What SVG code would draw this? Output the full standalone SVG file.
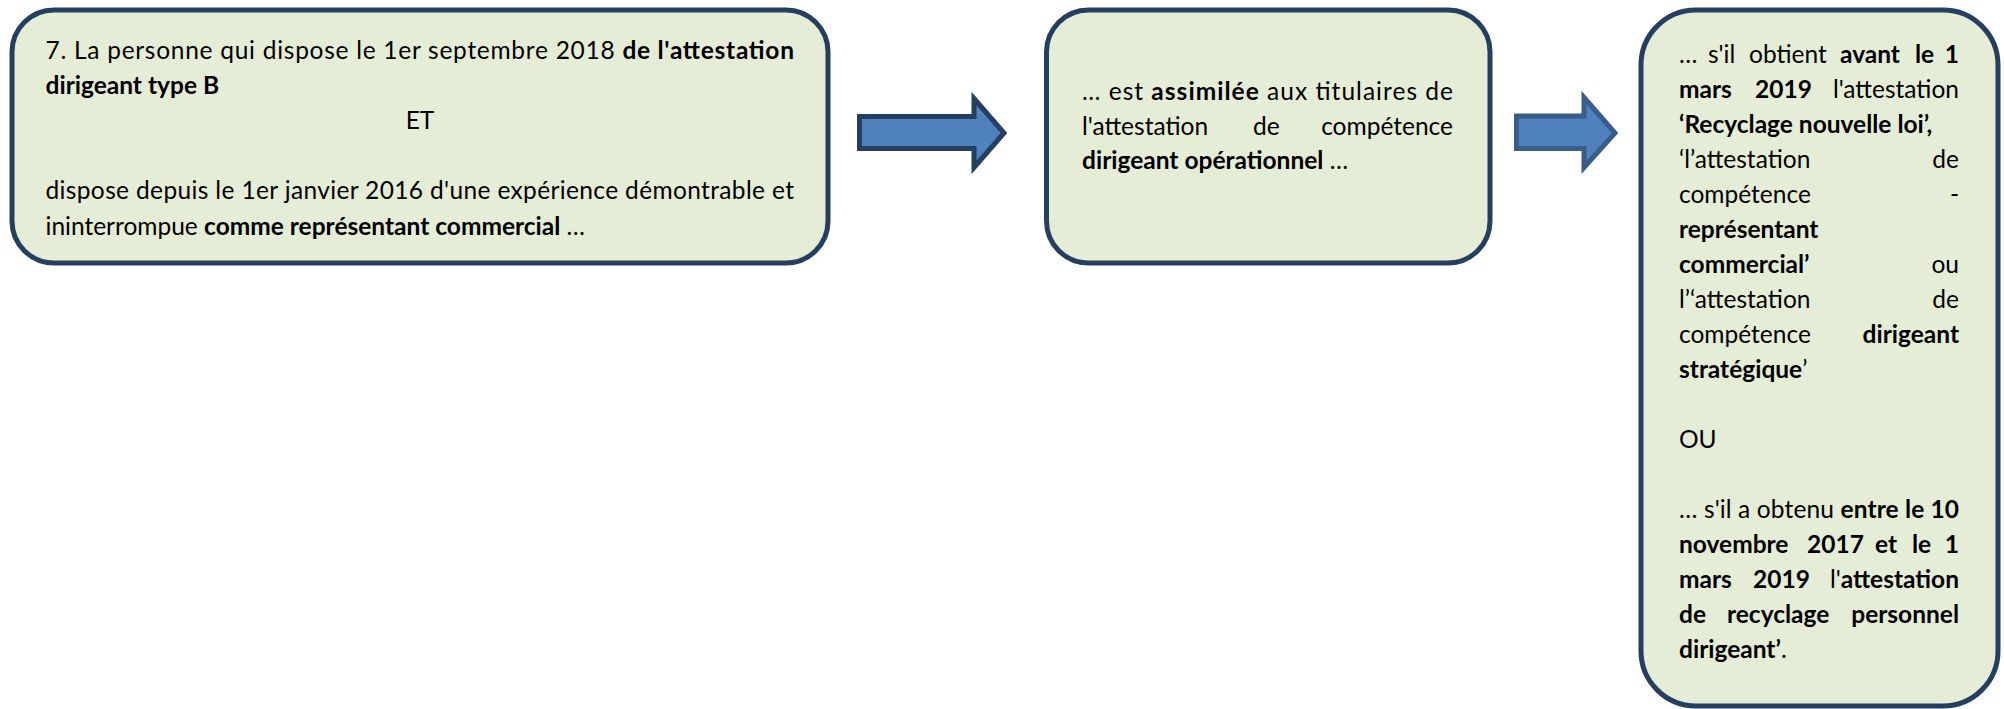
<svg xmlns="http://www.w3.org/2000/svg" width="2004" height="709" viewBox="0 0 2004 709">
<style>
.box{fill:#E6EDD7;stroke:#243F60;stroke-width:5}
.arr{fill:#4F81BD;stroke-width:5;stroke-linejoin:miter}
text{font-family:Lato,"Open Sans","Liberation Sans",sans-serif;font-size:24.5px;fill:#000}
.b{font-weight:bold}
.e{text-anchor:end}
.m{text-anchor:middle}
</style>
<rect width="2004" height="709" fill="#fff"/>
<g id="connectors">
<path class="arr" stroke="#243F60" d="M859.5,116.5 H974 V98.5 L1004,133 L974,167.5 V148.5 H859.5 Z"/>
<path class="arr" stroke="#385D8A" d="M1516.5,116 H1584 V97.5 L1615,133 L1584,167.5 V148.5 H1516.5 Z"/>
</g>
<g id="node1">
<rect class="box" x="12" y="10" width="816" height="253" rx="42"/>
<text x="45.5" y="59" textLength="748.5" lengthAdjust="spacing">7. La personne qui dispose le 1er septembre 2018 <tspan class="b">de l'attestation</tspan></text>
<text class="b" x="45.5" y="94">dirigeant type B</text>
<text class="m" x="420" y="129">ET</text>
<text x="45.5" y="199" textLength="748.5" lengthAdjust="spacing">dispose depuis le 1er janvier 2016 d'une expérience démontrable et</text>
<text x="45.5" y="235">ininterrompue <tspan class="b">comme représentant commercial</tspan> …</text>
</g>
<g id="node2">
<rect class="box" x="1046.5" y="10" width="443.5" height="253" rx="42"/>
<text x="1082" y="100" textLength="371" lengthAdjust="spacing">… est <tspan class="b">assimilée</tspan> aux titulaires de</text>
<text x="1082" y="134.5">l'attestation</text>
<text x="1253" y="134.5">de</text>
<text class="e" x="1453" y="134.5">compétence</text>
<text x="1082" y="169"><tspan class="b">dirigeant opérationnel</tspan> …</text>
</g>
<g id="node3">
<rect class="box" x="1641" y="10" width="357" height="696" rx="55"/>
<text x="1679" y="63">…</text>
<text x="1708" y="63">s'il</text>
<text x="1749" y="63">obtient</text>
<text class="b" x="1840" y="63">avant</text>
<text class="b" x="1915" y="63">le</text>
<text class="b e" x="1959" y="63">1</text>
<text class="b" x="1679" y="98">mars</text>
<text class="b" x="1755" y="98">2019</text>
<text class="e" x="1959" y="98">l'attestation</text>
<text class="b" x="1679" y="133">‘Recyclage nouvelle loi’,</text>
<text x="1679" y="168">‘l’attestation</text>
<text class="e" x="1959" y="168">de</text>
<text x="1679" y="203">compétence</text>
<text class="e" x="1959" y="203">-</text>
<text class="b" x="1679" y="238">représentant</text>
<text class="b" x="1679" y="273">commercial’</text>
<text class="e" x="1959" y="273">ou</text>
<text x="1679" y="308">l’‘attestation</text>
<text class="e" x="1959" y="308">de</text>
<text x="1679" y="343">compétence</text>
<text class="b e" x="1959" y="343">dirigeant</text>
<text x="1679" y="378"><tspan class="b">stratégique</tspan>’</text>
<text x="1679" y="448">OU</text>
<text x="1679" y="518" textLength="280" lengthAdjust="spacing">… s'il a obtenu <tspan class="b">entre le 10</tspan></text>
<text class="b" x="1679" y="553">novembre</text>
<text class="b" x="1807" y="553">2017</text>
<text class="b" x="1875" y="553">et</text>
<text class="b" x="1912" y="553">le</text>
<text class="b e" x="1959" y="553">1</text>
<text class="b" x="1679" y="588">mars</text>
<text class="b" x="1753" y="588">2019</text>
<text class="e" x="1959" y="588">l'<tspan class="b">attestation</tspan></text>
<text class="b" x="1679" y="623">de</text>
<text class="b" x="1727" y="623">recyclage</text>
<text class="b e" x="1959" y="623">personnel</text>
<text x="1679" y="658"><tspan class="b">dirigeant’</tspan>.</text>
</g>
</svg>
